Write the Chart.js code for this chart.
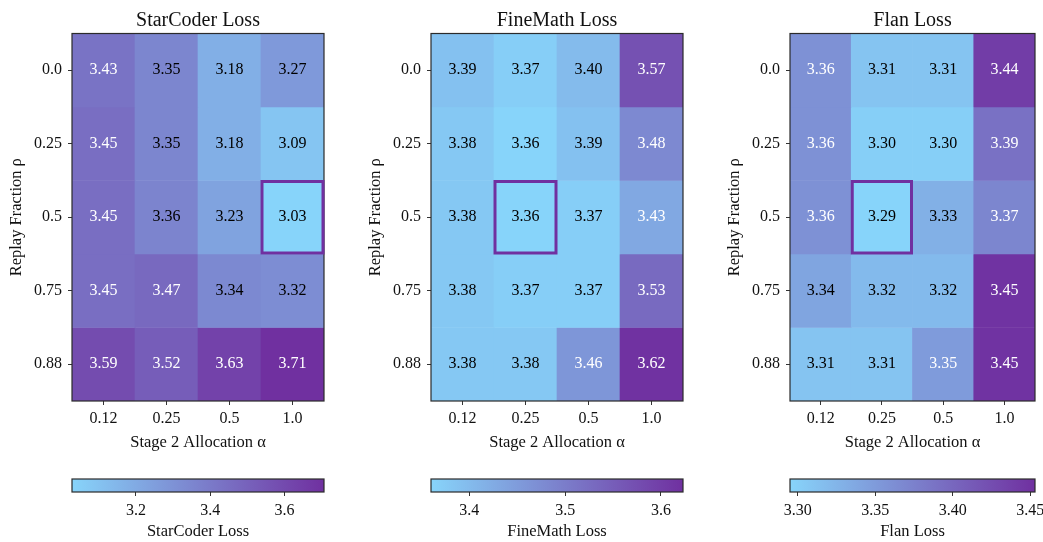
<!DOCTYPE html>
<html>
<head>
<meta charset="utf-8">
<title>Loss heatmaps</title>
<script src="https://cdn.jsdelivr.net/npm/chart.js@4.4.0/dist/chart.umd.min.js"></script>
<style>
  body { margin: 0; width: 1043px; height: 542px; overflow: hidden; background: #fff; position: relative; }
  canvas { position: absolute; }
</style>
</head>
<body>
<canvas id="heat1"></canvas>
<canvas id="heat2"></canvas>
<canvas id="heat3"></canvas>
<canvas id="bar1"></canvas>
<canvas id="bar2"></canvas>
<canvas id="bar3"></canvas>
<script>
// data
const alphaLabels = ['0.12', '0.25', '0.5', '1.0'];
const rhoLabels = ['0.0', '0.25', '0.5', '0.75', '0.88'];

const starCoderLoss = [
  [3.43, 3.35, 3.18, 3.27],
  [3.45, 3.35, 3.18, 3.09],
  [3.45, 3.36, 3.23, 3.03],
  [3.45, 3.47, 3.34, 3.32],
  [3.59, 3.52, 3.63, 3.71]
];
const fineMathLoss = [
  [3.39, 3.37, 3.40, 3.57],
  [3.38, 3.36, 3.39, 3.48],
  [3.38, 3.36, 3.37, 3.43],
  [3.38, 3.37, 3.37, 3.53],
  [3.38, 3.38, 3.46, 3.62]
];
const flanLoss = [
  [3.36, 3.31, 3.31, 3.44],
  [3.36, 3.30, 3.30, 3.39],
  [3.36, 3.29, 3.33, 3.37],
  [3.34, 3.32, 3.32, 3.45],
  [3.31, 3.31, 3.35, 3.45]
];

// colour scale limits (from the colorbars)
const starCoderRange = [3.028, 3.706];
const fineMathRange = [3.360, 3.623];
const flanRange = [3.295, 3.453];

const starCoderTicks = [3.2, 3.4, 3.6];
const starCoderTickLabels = ['3.2', '3.4', '3.6'];
const fineMathTicks = [3.4, 3.5, 3.6];
const fineMathTickLabels = ['3.4', '3.5', '3.6'];
const flanTicks = [3.30, 3.35, 3.40, 3.45];
const flanTickLabels = ['3.30', '3.35', '3.40', '3.45'];

// highlighted cell [row, col]
const starCoderBest = [2, 3];
const fineMathBest = [2, 1];
const flanBest = [2, 1];

Chart.defaults.font.family = "'Liberation Serif', 'Times New Roman', serif";
Chart.defaults.color = '#111';

const lowColor = [135, 212, 250];
const highColor = [112, 48, 160];

function lossColor(v, range) {
  let t = (v - range[0]) / (range[1] - range[0]);
  t = Math.max(0, Math.min(1, t));
  const c = lowColor.map((a, k) => Math.round(a + (highColor[k] - a) * t));
  return 'rgb(' + c.join(',') + ')';
}

const framePlugin = {
  id: 'frame',
  afterDatasetsDraw(chart) {
    const a = chart.chartArea, ctx = chart.ctx;
    ctx.save();
    ctx.strokeStyle = '#2b2b2b';
    ctx.lineWidth = 1.2;
    ctx.strokeRect(a.left, a.top, a.right - a.left, a.bottom - a.top);
    ctx.restore();
  }
};

function cellPlugin(p) {
  const all = p.loss.flat();
  const mean = all.reduce((s, v) => s + v, 0) / all.length;
  return {
    id: 'cells',
    afterDatasetsDraw(chart) {
      const ctx = chart.ctx;
      ctx.save();
      ctx.font = "16px 'Liberation Serif'";
      ctx.textAlign = 'center';
      ctx.textBaseline = 'middle';
      chart.data.datasets.forEach((ds, i) => {
        chart.getDatasetMeta(i).data.forEach((el, j) => {
          const v = ds.data[j].loss;
          ctx.fillStyle = v > mean ? '#fff' : '#000';
          ctx.fillText(v.toFixed(2), el.x, (el.y + el.base) / 2);
        });
      });
      const el = chart.getDatasetMeta(p.best[0]).data[p.best[1]];
      const top = Math.min(el.y, el.base), h = Math.abs(el.base - el.y);
      ctx.strokeStyle = '#7030a0';
      ctx.lineWidth = 3;
      ctx.strokeRect(el.x - el.width / 2 + 1, top + 1, el.width - 2, h - 2);
      ctx.restore();
    }
  };
}

const panels = [
  {heat: 'heat1', bar: 'bar1', title: 'StarCoder Loss', loss: starCoderLoss, range: starCoderRange,
   ticks: starCoderTicks, tickLabels: starCoderTickLabels, best: starCoderBest, left: 72, width: 252},
  {heat: 'heat2', bar: 'bar2', title: 'FineMath Loss', loss: fineMathLoss, range: fineMathRange,
   ticks: fineMathTicks, tickLabels: fineMathTickLabels, best: fineMathBest, left: 431, width: 252},
  {heat: 'heat3', bar: 'bar3', title: 'Flan Loss', loss: flanLoss, range: flanRange,
   ticks: flanTicks, tickLabels: flanTickLabels, best: flanBest, left: 790, width: 245}
];

function place(canvas, left, top, w, h) {
  canvas.width = w;
  canvas.height = h;
  canvas.style.left = left + 'px';
  canvas.style.top = top + 'px';
  canvas.style.width = w + 'px';
  canvas.style.height = h + 'px';
}

function drawHeat(p) {
  const cv = document.getElementById(p.heat);
  place(cv, p.left - 72, 0, 72 + p.width + 8, 457);

  const datasets = p.loss.map((row, i) => ({
    label: rhoLabels[i],
    data: row.map((v, j) => ({x: alphaLabels[j], y: [i, i + 1], loss: v})),
    backgroundColor: row.map(v => lossColor(v, p.range)),
    borderWidth: 0,
    barPercentage: 1,
    categoryPercentage: 1,
    grouped: false
  }));

  new Chart(cv, {
    type: 'bar',
    data: {labels: alphaLabels, datasets: datasets},
    options: {
      responsive: false,
      animation: false,
      layout: {padding: {left: 0, right: 8, top: 0, bottom: 0}},
      plugins: {
        legend: {display: false},
        tooltip: {enabled: false},
        title: {
          display: true, text: p.title, fullSize: false, color: '#111',
          font: {size: 20, weight: 'normal'}, padding: {top: 8.5, bottom: 1}
        }
      },
      scales: {
        x: {
          offset: true,
          grid: {offset: false, drawOnChartArea: false, tickLength: 4, color: '#333'},
          border: {display: false},
          ticks: {font: {size: 16}, padding: 4.5, color: '#111'},
          title: {display: true, text: 'Stage 2 Allocation α', font: {size: 16.5}, color: '#111', padding: {top: 0, bottom: 4}},
          afterFit: s => { s.height = 56; }
        },
        y: {
          type: 'linear', reverse: true, min: 0, max: 5,
          grid: {drawOnChartArea: false, tickLength: 4, color: '#333'},
          border: {display: false},
          afterBuildTicks: s => { s.ticks = rhoLabels.map((_, i) => ({value: i + 0.5})); },
          ticks: {callback: (v, i) => rhoLabels[i], font: {size: 16}, padding: 6, color: '#111'},
          title: {display: true, text: 'Replay Fraction ρ', font: {size: 16.5}, color: '#111', padding: {top: 6.5, bottom: 0}},
          afterFit: s => { s.width = 72; }
        }
      }
    },
    plugins: [framePlugin, cellPlugin(p)]
  });
}

function barGradient(chart) {
  const a = chart.chartArea;
  if (!a) return 'rgb(' + lowColor.join(',') + ')';
  const g = chart.ctx.createLinearGradient(a.left, 0, a.right, 0);
  g.addColorStop(0, 'rgb(' + lowColor.join(',') + ')');
  g.addColorStop(1, 'rgb(' + highColor.join(',') + ')');
  return g;
}

function drawBar(p) {
  const cv = document.getElementById(p.bar);
  place(cv, p.left - 30, 471, p.width + 60, 71);

  new Chart(cv, {
    type: 'bar',
    data: {
      labels: [''],
      datasets: [{
        data: [p.range],
        backgroundColor: ctx => barGradient(ctx.chart),
        borderWidth: 0,
        barPercentage: 1,
        categoryPercentage: 1
      }]
    },
    options: {
      indexAxis: 'y',
      responsive: false,
      animation: false,
      layout: {padding: {left: 30, right: 30, top: 8, bottom: 0}},
      plugins: {legend: {display: false}, tooltip: {enabled: false}},
      scales: {
        x: {
          type: 'linear', min: p.range[0], max: p.range[1],
          afterBuildTicks: s => { s.ticks = p.ticks.map(v => ({value: v})); },
          ticks: {callback: (v, i) => p.tickLabels[i], font: {size: 16}, padding: 5, color: '#111'},
          grid: {drawOnChartArea: false, tickLength: 4, color: '#333'},
          border: {display: false},
          title: {display: true, text: p.title, font: {size: 16.5}, color: '#111', padding: {top: 0, bottom: 0}},
          afterFit: s => { s.height = 50; }
        },
        y: {display: false}
      }
    },
    plugins: [framePlugin]
  });
}

panels.forEach(p => {
  drawHeat(p);
  drawBar(p);
});
</script>
</body>
</html>
